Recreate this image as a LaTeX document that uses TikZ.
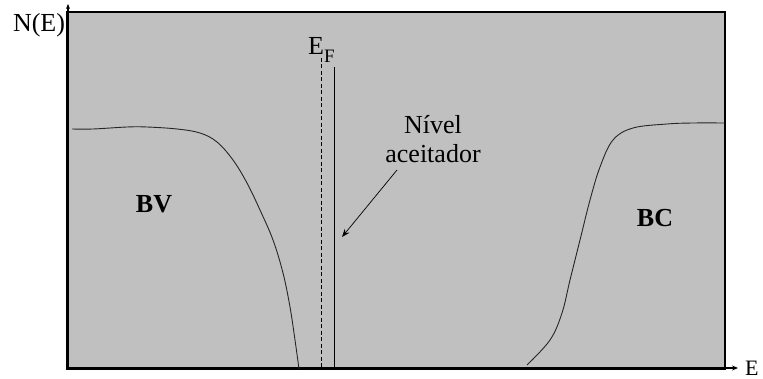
\documentclass[tikz,border=0pt]{standalone}
\usepackage{fontspec}
\setmainfont{Liberation Serif}
\usetikzlibrary{arrows.meta}
\definecolor{bgfill}{HTML}{C0C0C0}
\begin{document}
\begin{tikzpicture}[x=1pt,y=-1pt,
  lbl/.style={inner sep=0pt,font=\fontsize{26}{30}\selectfont},
  bandlbl/.style={inner sep=0pt,font=\fontsize{26}{30}\selectfont\bfseries},
  curve/.style={line width=0.9pt,black!85},
  level/.style={line width=1pt,black}]
\useasboundingbox (0,0) rectangle (763,379);
% plot area
\fill[bgfill] (67,12) rectangle (725,369);
\draw[line width=1.6pt] (67,369) -- (67,12) -- (725,12) -- (725,369) -- cycle;
% axes tips
\coordinate (yax0) at (68,369);
\coordinate (yax1) at (68,4);
\coordinate (xax0) at (67,368);
\coordinate (xax1) at (738,368);
\draw[line width=1.2pt,-{Stealth[length=5pt,width=4pt]}] (yax0) -- (yax1);
\draw[line width=1.2pt,-{Stealth[length=6pt,width=5pt]}] (xax0) -- (xax1);
% labels of axes
\node[lbl] (ne) at (39,25) {N(E)};
\node[lbl,font=\fontsize{22}{24}\selectfont,anchor=base west] (e) at (745,375) {E};
% valence band edge
\draw[curve] plot[smooth,tension=0.6] coordinates {(72,129) (93,129) (127,127) (147,127) (177,129) (200,133) (217,142) (233,160) (247,183) (260,210) (273,240) (283,273) (290,307) (295,340) (299,369)};
% conduction band edge
\draw[curve] plot[smooth,tension=0.6] coordinates {(527,365) (550,340) (562,313) (570,280) (580,240) (590,200) (600,167) (613,140) (633,128) (667,124) (693,123) (725,123)};
% Fermi level and acceptor level
\coordinate (ef0) at (321,58);
\coordinate (ef1) at (321,369);
\coordinate (ac0) at (334,67);
\coordinate (ac1) at (334,369);
\draw[level,dash pattern=on 4pt off 2.5pt] (ef0) -- (ef1);
\draw[level] (ac0) -- (ac1);
\node[lbl,anchor=base west] (ef) at (308,55) {E\raisebox{-0.3em}{\fontsize{19}{19}\selectfont F}};
% labels
\node[lbl,align=center] (niv) at (433,139) {Nível\\[-1pt]aceitador};
\coordinate (arrs) at (397,170);
\coordinate (arre) at (342,237);
\draw[line width=0.7pt,-{Stealth[length=8pt,width=6pt]}] (arrs) -- (arre);
\node[bandlbl] (bv) at (154,204) {BV};
\node[bandlbl] (bc) at (655,218) {BC};
\end{tikzpicture}
\end{document}
